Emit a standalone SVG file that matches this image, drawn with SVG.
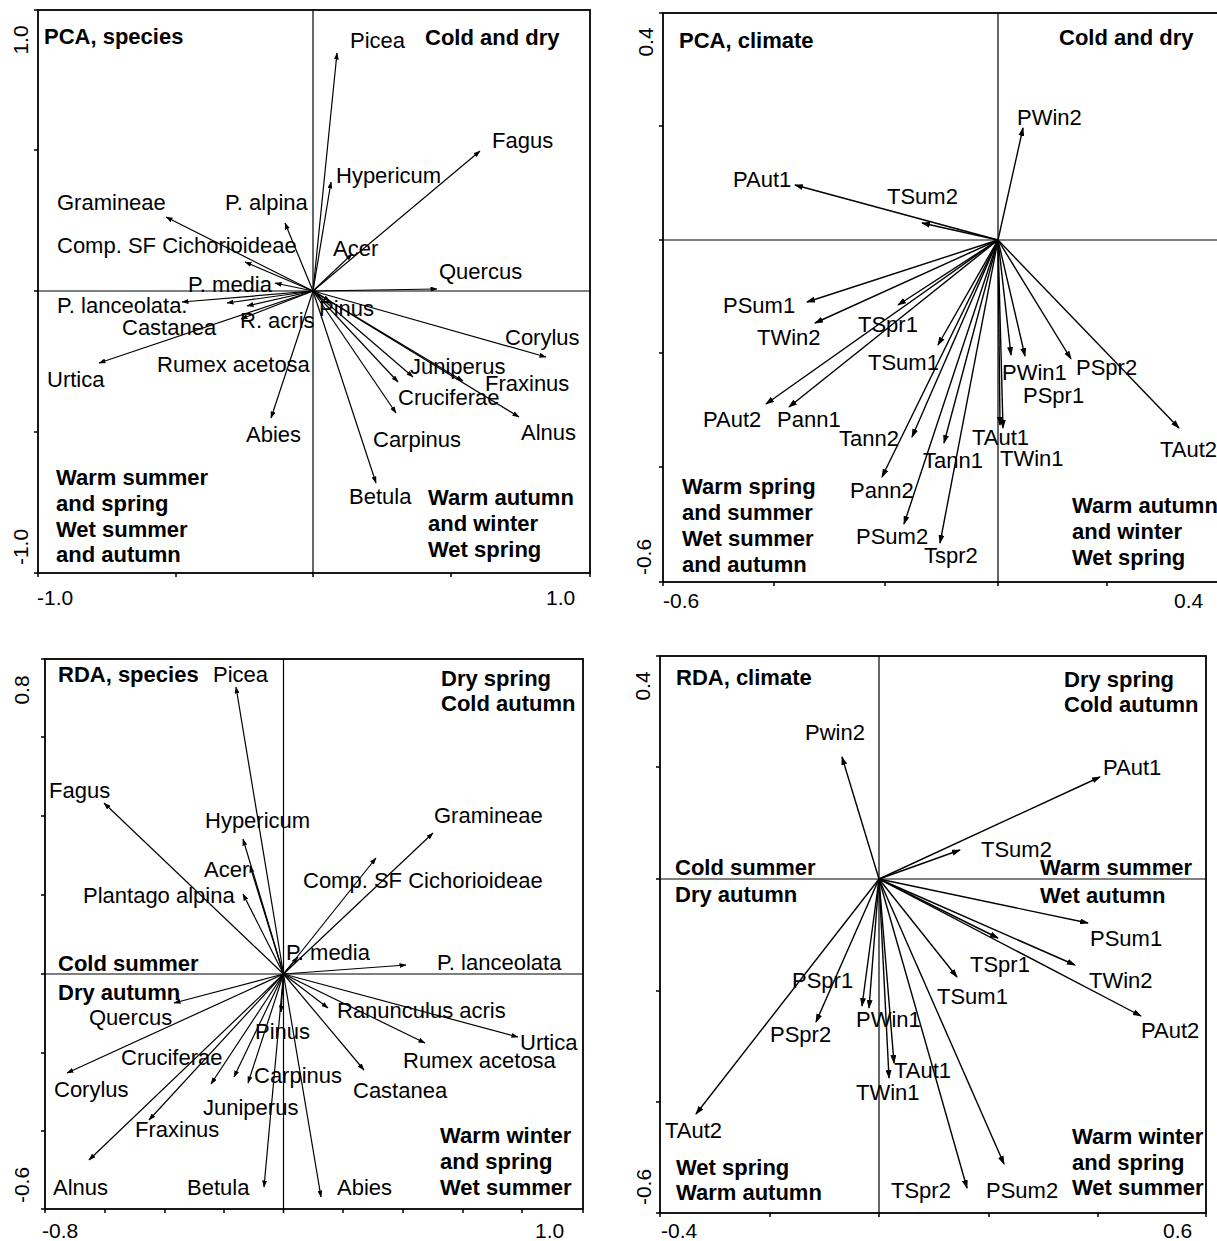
<svg xmlns="http://www.w3.org/2000/svg" width="1217" height="1241" viewBox="0 0 1217 1241">
<defs>
<marker id="ah" markerUnits="userSpaceOnUse" markerWidth="9" markerHeight="6" refX="8" refY="3" orient="auto"><path d="M0,0 L9,3 L0,6 z" fill="#000"/></marker>
<marker id="ahs" markerUnits="userSpaceOnUse" markerWidth="7" markerHeight="5" refX="6.5" refY="2.5" orient="auto"><path d="M0,0 L7,2.5 L0,5 z" fill="#000"/></marker>
</defs>
<style>
text{font-family:"Liberation Sans",Arial,sans-serif;font-size:22px;fill:#000}
.b{font-weight:bold}
.ax{font-size:21px}
.frame{fill:none;stroke:#000;stroke-width:1.8}
.axis{stroke:#000;stroke-width:1.2}
.tick{stroke:#000;stroke-width:1.5}
.arr line{stroke:#000;stroke-width:1.4;marker-end:url(#ah)}
.arr.s line{stroke-width:1.2;marker-end:url(#ahs)}
</style>
<rect width="1217" height="1241" fill="#fff"/>

<!-- Panel 1: PCA species -->
<g id="panel-pca-species">
<rect class="frame" x="38" y="10" width="552" height="563"/>
<line class="axis" x1="313" y1="10" x2="313" y2="573"/>
<line class="axis" x1="38" y1="291" x2="590" y2="291"/>
<path class="tick" d="M34,150H38M34,291H38M34,432H38M34,573H38M34,10H38M38,573V577M176,573V577M313,573V577M451,573V577M590,573V577"/>
<text class="ax" transform="translate(28,40) rotate(-90)" text-anchor="middle">1.0</text>
<text class="ax" transform="translate(28,547) rotate(-90)" text-anchor="middle">-1.0</text>
<text class="ax" x="37" y="605">-1.0</text>
<text class="ax" x="546" y="605">1.0</text>
<g class="arr s" id="connectors-pca-species">
<line x1="313" y1="291" x2="337" y2="53"/>
<line x1="313" y1="291" x2="480" y2="151"/>
<line x1="313" y1="291" x2="331" y2="182"/>
<line x1="313" y1="291" x2="352" y2="254"/>
<line x1="313" y1="291" x2="437" y2="289"/>
<line x1="313" y1="291" x2="285" y2="223"/>
<line x1="313" y1="291" x2="166" y2="217"/>
<line x1="313" y1="291" x2="245" y2="262"/>
<line x1="313" y1="291" x2="275" y2="283"/>
<line x1="313" y1="291" x2="182" y2="302"/>
<line x1="313" y1="291" x2="227" y2="303"/>
<line x1="313" y1="291" x2="247" y2="306"/>
<line x1="313" y1="291" x2="241" y2="319"/>
<line x1="313" y1="291" x2="99" y2="363"/>
<line x1="313" y1="291" x2="330" y2="301"/>
<line x1="313" y1="291" x2="546" y2="357"/>
<line x1="313" y1="291" x2="413" y2="377"/>
<line x1="313" y1="291" x2="398" y2="382"/>
<line x1="313" y1="291" x2="463" y2="381"/>
<line x1="313" y1="291" x2="519" y2="417"/>
<line x1="313" y1="291" x2="396" y2="413"/>
<line x1="313" y1="291" x2="376" y2="483"/>
<line x1="313" y1="291" x2="271" y2="418"/>
</g>
<g id="n1-title"><text class="b" x="44" y="44">PCA, species</text></g>
<g id="n1-q1"><text class="b" x="425" y="45">Cold and dry</text></g>
<g id="n1-q3"><text class="b" x="56"><tspan x="56" y="485">Warm summer</tspan><tspan x="56" y="511">and spring</tspan><tspan x="56" y="537">Wet summer</tspan><tspan x="56" y="562">and autumn</tspan></text></g>
<g id="n1-q4"><text class="b" x="428"><tspan x="428" y="505">Warm autumn</tspan><tspan x="428" y="531">and winter</tspan><tspan x="428" y="557">Wet spring</tspan></text></g>
<g id="n1-picea"><text x="350" y="48">Picea</text></g>
<g id="n1-fagus"><text x="492" y="148">Fagus</text></g>
<g id="n1-hypericum"><text x="336" y="183">Hypericum</text></g>
<g id="n1-palpina"><text x="225" y="210">P. alpina</text></g>
<g id="n1-gramineae"><text x="57" y="210">Gramineae</text></g>
<g id="n1-acer"><text x="333" y="256">Acer</text></g>
<g id="n1-comp"><text x="57" y="253">Comp. SF Cichorioideae</text></g>
<g id="n1-quercus"><text x="439" y="279">Quercus</text></g>
<g id="n1-pmedia"><text x="188" y="292">P. media</text></g>
<g id="n1-planceolata"><text x="57" y="313">P. lanceolata.</text></g>
<g id="n1-pinus"><text x="319" y="316">Pinus</text></g>
<g id="n1-racris"><text x="240" y="328">R. acris</text></g>
<g id="n1-castanea"><text x="122" y="335">Castanea</text></g>
<g id="n1-corylus"><text x="505" y="345">Corylus</text></g>
<g id="n1-juniperus"><text x="410" y="374">Juniperus</text></g>
<g id="n1-rumex"><text x="157" y="372">Rumex acetosa</text></g>
<g id="n1-urtica"><text x="47" y="387">Urtica</text></g>
<g id="n1-fraxinus"><text x="485" y="391">Fraxinus</text></g>
<g id="n1-cruciferae"><text x="398" y="405">Cruciferae</text></g>
<g id="n1-alnus"><text x="521" y="440">Alnus</text></g>
<g id="n1-abies"><text x="246" y="442">Abies</text></g>
<g id="n1-carpinus"><text x="373" y="447">Carpinus</text></g>
<g id="n1-betula"><text x="349" y="504">Betula</text></g>
</g>

<!-- Panel 2: PCA climate -->
<g id="panel-pca-climate">
<rect class="frame" x="663" y="13" width="556" height="569"/>
<line class="axis" x1="998" y1="13" x2="998" y2="582"/>
<line class="axis" x1="663" y1="240" x2="1217" y2="240"/>
<path class="tick" d="M659,13H663M659,126H663M659,240H663M659,353H663M659,467H663M659,582H663M663,582V586M774,582V586M885,582V586M998,582V586M1107,582V586"/>
<text class="ax" transform="translate(653,42) rotate(-90)" text-anchor="middle">0.4</text>
<text class="ax" transform="translate(651,557) rotate(-90)" text-anchor="middle">-0.6</text>
<text class="ax" x="663" y="608">-0.6</text>
<text class="ax" x="1174" y="608">0.4</text>
<g class="arr" id="connectors-pca-climate">
<line x1="998" y1="240" x2="1023" y2="128"/>
<line x1="998" y1="240" x2="795" y2="185"/>
<line x1="998" y1="240" x2="922" y2="223"/>
<line x1="998" y1="240" x2="807" y2="302"/>
<line x1="998" y1="240" x2="815" y2="323"/>
<line x1="998" y1="240" x2="898" y2="305"/>
<line x1="998" y1="240" x2="938" y2="345"/>
<line x1="998" y1="240" x2="766" y2="404"/>
<line x1="998" y1="240" x2="789" y2="407"/>
<line x1="998" y1="240" x2="912" y2="437"/>
<line x1="998" y1="240" x2="944" y2="443"/>
<line x1="998" y1="240" x2="882" y2="477"/>
<line x1="998" y1="240" x2="904" y2="524"/>
<line x1="998" y1="240" x2="940" y2="543"/>
<line x1="998" y1="240" x2="1003" y2="428"/>
<line x1="998" y1="240" x2="1000" y2="425"/>
<line x1="998" y1="240" x2="1011" y2="355"/>
<line x1="998" y1="240" x2="1025" y2="356"/>
<line x1="998" y1="240" x2="1071" y2="359"/>
<line x1="998" y1="240" x2="1179" y2="428"/>
</g>
<g id="n2-title"><text class="b" x="679" y="48">PCA, climate</text></g>
<g id="n2-q1"><text class="b" x="1059" y="45">Cold and dry</text></g>
<g id="n2-q3"><text class="b"><tspan x="682" y="494">Warm spring</tspan><tspan x="682" y="520">and summer</tspan><tspan x="682" y="546">Wet summer</tspan><tspan x="682" y="572">and autumn</tspan></text></g>
<g id="n2-q4"><text class="b"><tspan x="1072" y="513">Warm autumn</tspan><tspan x="1072" y="539">and winter</tspan><tspan x="1072" y="565">Wet spring</tspan></text></g>
<g id="n2-pwin2"><text x="1017" y="125">PWin2</text></g>
<g id="n2-paut1"><text x="733" y="187">PAut1</text></g>
<g id="n2-tsum2"><text x="887" y="204">TSum2</text></g>
<g id="n2-psum1"><text x="723" y="313">PSum1</text></g>
<g id="n2-tspr1"><text x="858" y="332">TSpr1</text></g>
<g id="n2-twin2"><text x="757" y="345">TWin2</text></g>
<g id="n2-tsum1"><text x="868" y="370">TSum1</text></g>
<g id="n2-pwin1"><text x="1002" y="380">PWin1</text></g>
<g id="n2-pspr2"><text x="1076" y="375">PSpr2</text></g>
<g id="n2-pspr1"><text x="1023" y="403">PSpr1</text></g>
<g id="n2-paut2"><text x="703" y="427">PAut2</text></g>
<g id="n2-pann1"><text x="777" y="427">Pann1</text></g>
<g id="n2-tann2"><text x="839" y="446">Tann2</text></g>
<g id="n2-taut1"><text x="972" y="445">TAut1</text></g>
<g id="n2-taut2"><text x="1160" y="457">TAut2</text></g>
<g id="n2-twin1"><text x="1000" y="466">TWin1</text></g>
<g id="n2-tann1"><text x="923" y="468">Tann1</text></g>
<g id="n2-pann2"><text x="850" y="498">Pann2</text></g>
<g id="n2-psum2"><text x="856" y="544">PSum2</text></g>
<g id="n2-tspr2"><text x="924" y="563">Tspr2</text></g>
</g>

<!-- Panel 3: RDA species -->
<g id="panel-rda-species">
<rect class="frame" x="45" y="659" width="538" height="550"/>
<line class="axis" x1="283.5" y1="659" x2="283.5" y2="1209"/>
<line class="axis" x1="45" y1="974" x2="583" y2="974"/>
<path class="tick" d="M41,659H45M41,737H45M41,816H45M41,895H45M41,974H45M41,1053H45M41,1131H45M41,1209H45M45,1209V1213M105,1209V1213M165,1209V1213M224,1209V1213M283.5,1209V1213M343,1209V1213M403,1209V1213M463,1209V1213M522,1209V1213M583,1209V1213"/>
<text class="ax" transform="translate(29,690) rotate(-90)" text-anchor="middle">0.8</text>
<text class="ax" transform="translate(29,1185) rotate(-90)" text-anchor="middle">-0.6</text>
<text class="ax" x="42" y="1238">-0.8</text>
<text class="ax" x="535" y="1238">1.0</text>
<g class="arr s" id="connectors-rda-species">
<line x1="283.5" y1="974" x2="236" y2="687"/>
<line x1="283.5" y1="974" x2="104" y2="803"/>
<line x1="283.5" y1="974" x2="243" y2="839"/>
<line x1="283.5" y1="974" x2="250" y2="866"/>
<line x1="283.5" y1="974" x2="243" y2="894"/>
<line x1="283.5" y1="974" x2="433" y2="833"/>
<line x1="283.5" y1="974" x2="376" y2="858"/>
<line x1="283.5" y1="974" x2="298" y2="957"/>
<line x1="283.5" y1="974" x2="406" y2="965"/>
<line x1="283.5" y1="974" x2="174" y2="1003"/>
<line x1="283.5" y1="974" x2="67" y2="1073"/>
<line x1="283.5" y1="974" x2="211" y2="1084"/>
<line x1="283.5" y1="974" x2="149" y2="1120"/>
<line x1="283.5" y1="974" x2="89" y2="1160"/>
<line x1="283.5" y1="974" x2="264" y2="1187"/>
<line x1="283.5" y1="974" x2="321" y2="1197"/>
<line x1="283.5" y1="974" x2="234" y2="1077"/>
<line x1="283.5" y1="974" x2="248" y2="1083"/>
<line x1="283.5" y1="974" x2="281" y2="1012"/>
<line x1="283.5" y1="974" x2="328" y2="1008"/>
<line x1="283.5" y1="974" x2="518" y2="1037"/>
<line x1="283.5" y1="974" x2="425" y2="1043"/>
<line x1="283.5" y1="974" x2="364" y2="1070"/>
</g>
<g id="n3-title"><text class="b" x="58" y="682">RDA, species</text></g>
<g id="n3-q1"><text class="b"><tspan x="441" y="686">Dry spring</tspan><tspan x="441" y="711">Cold autumn</tspan></text></g>
<g id="n3-q2"><text class="b" x="58" y="971">Cold summer</text></g>
<g id="n3-q3"><text class="b" x="58" y="1000">Dry autumn</text></g>
<g id="n3-q4"><text class="b"><tspan x="440" y="1143">Warm winter</tspan><tspan x="440" y="1169">and spring</tspan><tspan x="440" y="1195">Wet summer</tspan></text></g>
<g id="n3-picea"><text x="213" y="682">Picea</text></g>
<g id="n3-fagus"><text x="49" y="798">Fagus</text></g>
<g id="n3-hypericum"><text x="205" y="828">Hypericum</text></g>
<g id="n3-gramineae"><text x="434" y="823">Gramineae</text></g>
<g id="n3-acer"><text x="204" y="877">Acer</text></g>
<g id="n3-comp"><text x="303" y="888">Comp. SF Cichorioideae</text></g>
<g id="n3-palpina"><text x="83" y="903">Plantago alpina</text></g>
<g id="n3-pmedia"><text x="286" y="960">P. media</text></g>
<g id="n3-planceolata"><text x="437" y="970">P. lanceolata</text></g>
<g id="n3-racris"><text x="337" y="1018">Ranunculus acris</text></g>
<g id="n3-quercus"><text x="89" y="1025">Quercus</text></g>
<g id="n3-pinus"><text x="255" y="1039">Pinus</text></g>
<g id="n3-urtica"><text x="520" y="1050">Urtica</text></g>
<g id="n3-cruciferae"><text x="121" y="1065">Cruciferae</text></g>
<g id="n3-rumex"><text x="403" y="1068">Rumex acetosa</text></g>
<g id="n3-carpinus"><text x="254" y="1083">Carpinus</text></g>
<g id="n3-corylus"><text x="54" y="1097">Corylus</text></g>
<g id="n3-castanea"><text x="353" y="1098">Castanea</text></g>
<g id="n3-juniperus"><text x="203" y="1115">Juniperus</text></g>
<g id="n3-fraxinus"><text x="135" y="1137">Fraxinus</text></g>
<g id="n3-alnus"><text x="53" y="1195">Alnus</text></g>
<g id="n3-betula"><text x="187" y="1195">Betula</text></g>
<g id="n3-abies"><text x="337" y="1195">Abies</text></g>
</g>

<!-- Panel 4: RDA climate -->
<g id="panel-rda-climate">
<rect class="frame" x="660" y="656" width="546" height="557"/>
<line class="axis" x1="879" y1="656" x2="879" y2="1213"/>
<line class="axis" x1="660" y1="879" x2="1206" y2="879"/>
<path class="tick" d="M656,656H660M656,767H660M656,879H660M656,991H660M656,1102H660M656,1213H660M660,1213V1217M770,1213V1217M879,1213V1217M989,1213V1217M1098,1213V1217M1206,1213V1217"/>
<text class="ax" transform="translate(650,686) rotate(-90)" text-anchor="middle">0.4</text>
<text class="ax" transform="translate(651,1187) rotate(-90)" text-anchor="middle">-0.6</text>
<text class="ax" x="661" y="1238">-0.4</text>
<text class="ax" x="1163" y="1238">0.6</text>
<g class="arr" id="connectors-rda-climate">
<line x1="879" y1="879" x2="842" y2="757"/>
<line x1="879" y1="879" x2="1100" y2="777"/>
<line x1="879" y1="879" x2="960" y2="850"/>
<line x1="879" y1="879" x2="1088" y2="923"/>
<line x1="879" y1="879" x2="998" y2="938"/>
<line x1="879" y1="879" x2="1075" y2="965"/>
<line x1="879" y1="879" x2="1141" y2="1016"/>
<line x1="879" y1="879" x2="957" y2="977"/>
<line x1="879" y1="879" x2="816" y2="1022"/>
<line x1="879" y1="879" x2="862" y2="1006"/>
<line x1="879" y1="879" x2="869" y2="1008"/>
<line x1="879" y1="879" x2="894" y2="1063"/>
<line x1="879" y1="879" x2="889" y2="1078"/>
<line x1="879" y1="879" x2="967" y2="1188"/>
<line x1="879" y1="879" x2="1004" y2="1164"/>
<line x1="879" y1="879" x2="696" y2="1114"/>
</g>
<g id="n4-title"><text class="b" x="676" y="685">RDA, climate</text></g>
<g id="n4-q1"><text class="b"><tspan x="1064" y="687">Dry spring</tspan><tspan x="1064" y="712">Cold autumn</tspan></text></g>
<g id="n4-q2"><text class="b"><tspan x="675" y="875">Cold summer</tspan><tspan x="675" y="902">Dry autumn</tspan></text></g>
<g id="n4-q1b"><text class="b"><tspan x="1040" y="875">Warm summer</tspan><tspan x="1040" y="903">Wet autumn</tspan></text></g>
<g id="n4-q3"><text class="b"><tspan x="676" y="1175">Wet spring</tspan><tspan x="676" y="1200">Warm autumn</tspan></text></g>
<g id="n4-q4"><text class="b"><tspan x="1072" y="1144">Warm winter</tspan><tspan x="1072" y="1170">and spring</tspan><tspan x="1072" y="1195">Wet summer</tspan></text></g>
<g id="n4-pwin2"><text x="805" y="740">Pwin2</text></g>
<g id="n4-paut1"><text x="1103" y="775">PAut1</text></g>
<g id="n4-tsum2"><text x="981" y="857">TSum2</text></g>
<g id="n4-psum1"><text x="1090" y="946">PSum1</text></g>
<g id="n4-tspr1"><text x="970" y="972">TSpr1</text></g>
<g id="n4-twin2"><text x="1089" y="988">TWin2</text></g>
<g id="n4-pspr1"><text x="792" y="988">PSpr1</text></g>
<g id="n4-tsum1"><text x="937" y="1004">TSum1</text></g>
<g id="n4-pwin1"><text x="856" y="1027">PWin1</text></g>
<g id="n4-paut2"><text x="1141" y="1038">PAut2</text></g>
<g id="n4-pspr2"><text x="770" y="1042">PSpr2</text></g>
<g id="n4-taut1"><text x="894" y="1078">TAut1</text></g>
<g id="n4-twin1"><text x="856" y="1100">TWin1</text></g>
<g id="n4-taut2"><text x="665" y="1138">TAut2</text></g>
<g id="n4-tspr2"><text x="891" y="1198">TSpr2</text></g>
<g id="n4-psum2"><text x="986" y="1198">PSum2</text></g>
</g>
</svg>
